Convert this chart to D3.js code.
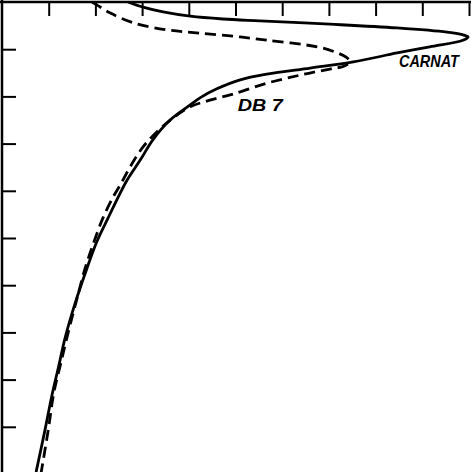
<!DOCTYPE html>
<html>
<head>
<meta charset="utf-8">
<script src="https://cdn.jsdelivr.net/npm/d3@7"></script>
<style>
  html, body { margin: 0; padding: 0; background: #fff; }
  svg { display: block; }
</style>
</head>
<body>
<svg id="chart" width="471" height="472"></svg>
<script>
// Tick positions (in grid units) along top and left edges
const xTicks = [1, 2, 3, 4, 5, 6, 7, 8, 9, 10];
const yTicks = [1, 2, 3, 4, 5, 6, 7, 8, 9];

// CARNAT (solid) curve: x and y in grid units, y measured downward from top
const carnatX = [2.70, 3.02, 3.45, 4.03, 4.73, 5.52, 7.02, 8.46, 9.53, 9.89, 9.98, 9.87, 9.16, 8.46, 7.52, 6.60, 5.67, 5.10, 4.60, 4.24, 4.03, 3.60, 3.23, 2.96, 2.68, 2.48, 2.27, 2.03, 1.82, 1.56, 1.35, 1.22, 1.07, 0.92, 0.73];
const carnatY = [0.00, 0.11, 0.21, 0.30, 0.36, 0.40, 0.47, 0.55, 0.64, 0.70, 0.74, 0.81, 0.95, 1.08, 1.27, 1.40, 1.53, 1.65, 1.84, 2.03, 2.18, 2.50, 2.92, 3.35, 3.77, 4.15, 4.58, 5.08, 5.64, 6.40, 7.12, 7.69, 8.33, 9.07, 9.96];

// DB 7 (dashed) curve
const db7X = [1.93, 2.03, 2.31, 2.81, 3.53, 4.24, 5.10, 5.67, 6.75, 7.13, 7.37, 7.45, 7.32, 7.02, 6.38, 5.67, 4.95, 4.45, 4.03, 3.66, 3.32, 3.02, 2.74, 2.53, 2.38, 2.16, 1.97, 1.78, 1.61, 1.43, 1.26, 1.11, 0.99, 0.84];
const db7Y = [0.00, 0.06, 0.23, 0.44, 0.59, 0.66, 0.74, 0.81, 0.95, 1.06, 1.17, 1.27, 1.36, 1.42, 1.55, 1.72, 1.95, 2.08, 2.22, 2.46, 2.75, 3.07, 3.50, 3.88, 4.13, 4.58, 5.08, 5.64, 6.27, 6.95, 7.65, 8.28, 9.07, 9.96];

const labels = ["CARNAT", "DB 7"];

const svg = d3.select("#chart");
const x = d3.scaleLinear().domain([0, 10]).range([2, 469]);
const y = d3.scaleLinear().domain([0, 10]).range([2, 474]);

// frame + ticks
svg.append("g")
  .attr("transform", `translate(0,${y(0)})`)
  .call(d3.axisTop(x).tickValues(xTicks).tickSize(-14).tickSizeOuter(0).tickFormat(""))
  .call(g => g.select(".domain").attr("stroke-width", 2.5).attr("d", `M0,0H471`))
  .call(g => g.selectAll(".tick line").attr("stroke-width", 2));

svg.append("g")
  .attr("transform", `translate(${x(0)},0)`)
  .call(d3.axisLeft(y).tickValues(yTicks).tickSize(-14).tickSizeOuter(0).tickFormat(""))
  .call(g => g.select(".domain").attr("stroke-width", 2.5).attr("d", `M0,0V472`))
  .call(g => g.selectAll(".tick line").attr("stroke-width", 2));

const line = d3.line()
  .x(d => x(d[0]))
  .y(d => y(d[1]))
  .curve(d3.curveCatmullRom.alpha(0.5));

const carnat = carnatX.map((v, i) => [v, carnatY[i]]);
const db7 = db7X.map((v, i) => [v, db7Y[i]]);

svg.append("path")
  .datum(carnat)
  .attr("d", line)
  .attr("fill", "none")
  .attr("stroke", "#000")
  .attr("stroke-width", 2.8)
  .attr("stroke-linejoin", "round");

svg.append("path")
  .datum(db7)
  .attr("d", line)
  .attr("fill", "none")
  .attr("stroke", "#000")
  .attr("stroke-width", 2.8)
  .attr("stroke-dasharray", "11,6");

svg.append("text")
  .attr("x", x(8.50)).attr("y", y(1.38))
  .attr("font-family", "Liberation Sans, Arial, sans-serif")
  .attr("font-style", "italic")
  .attr("font-weight", "bold")
  .attr("font-size", 17)
  .attr("textLength", 60)
  .attr("lengthAdjust", "spacingAndGlyphs")
  .attr("fill", "#000")
  .text(labels[0]);

svg.append("text")
  .attr("x", x(5.05)).attr("y", y(2.30))
  .attr("font-family", "Liberation Sans, Arial, sans-serif")
  .attr("font-style", "italic")
  .attr("font-weight", "bold")
  .attr("font-size", 17)
  .attr("textLength", 45)
  .attr("lengthAdjust", "spacingAndGlyphs")
  .attr("fill", "#000")
  .text(labels[1]);
</script>
</body>
</html>
